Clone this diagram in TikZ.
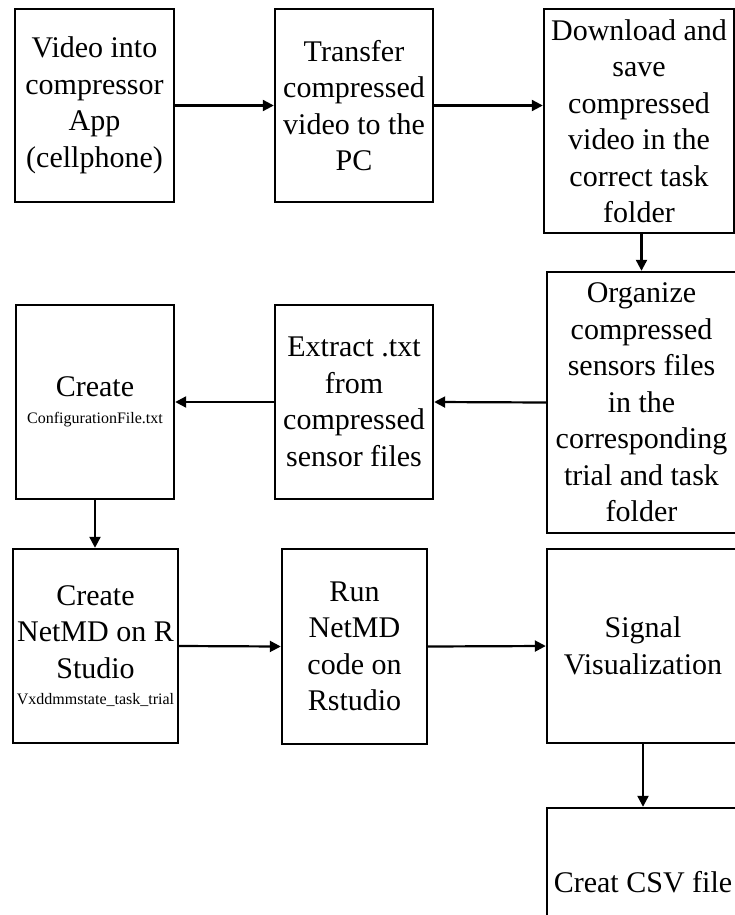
\documentclass[tikz,border=0pt]{standalone}
\usepackage{fontspec}
\setmainfont{Liberation Serif}
\usetikzlibrary{arrows.meta}
\newcommand\smalltxt{\fontsize{16}{19}\selectfont}
\tikzset{
  box/.style={draw=black, line width=2.4pt, inner sep=0pt, align=center,
    font=\fontsize{30}{36.5}\selectfont},
  conn/.style={line width=2.2pt, -{Triangle[length=11pt,width=11pt]}},
}
\begin{document}
\begin{tikzpicture}[x=1pt,y=-1pt]
\useasboundingbox (0,0) rectangle (735,915);
\clip (0,0) rectangle (735,915);
\fill[white] (0,0) rectangle (735,915);
% row 1
\node[box, minimum width=159pt, minimum height=193pt] (A) at (94.5,105.5)
  {Video into\\compressor\\App\\(cellphone)};
\node[box, minimum width=158pt, minimum height=193pt] (B) at (354,105.5)
  {Transfer\\compressed\\video to the\\PC};
\node[box, minimum width=190pt, minimum height=224pt] (C) at (639,121)
  {Download and\\save\\compressed\\video in the\\correct task\\folder};
% row 2
\node[box, minimum width=189pt, minimum height=261pt] (D) at (641.5,402.5)
  {Organize\\compressed\\sensors files\\in the\\corresponding\\trial and task\\folder};
\node[box, minimum width=158pt, minimum height=194pt] (E) at (354,402)
  {Extract .txt\\from\\compressed\\sensor files};
\node[box, minimum width=158pt, minimum height=194pt] (F) at (95,402)
  {Create\\[-10pt]{\smalltxt ConfigurationFile.txt}};
% row 3
\node[box, minimum width=165pt, minimum height=194pt] (G) at (95.5,646)
  {Create\\NetMD on R\\Studio\\[-10pt]{\smalltxt Vxddmmstate\_task\_trial}};
\node[box, minimum width=145pt, minimum height=195pt] (H) at (354.5,646.5)
  {Run\\NetMD\\code on\\Rstudio};
\node[box, minimum width=192pt, minimum height=194pt] (I) at (643,646)
  {Signal\\Visualization};
\node[box, minimum width=192pt, minimum height=148pt] (J) at (643,882)
  {Creat CSV file};
% connectors
\draw[conn] (A.east) -- (B.west);
\draw[conn] (B.east) -- (B.east -| C.west);
\draw[conn] (D.north |- C.south) -- (D.north);
\draw[conn] (D.west) -- (E.east);
\draw[conn] (E.west) -- (F.east);
\draw[conn] (F.south) -- (F.south |- G.north);
\draw[conn] (G.east) -- (H.west);
\draw[conn] (H.east) -- (I.west);
\draw[conn] (I.south) -- (J.north);
\end{tikzpicture}
\end{document}
